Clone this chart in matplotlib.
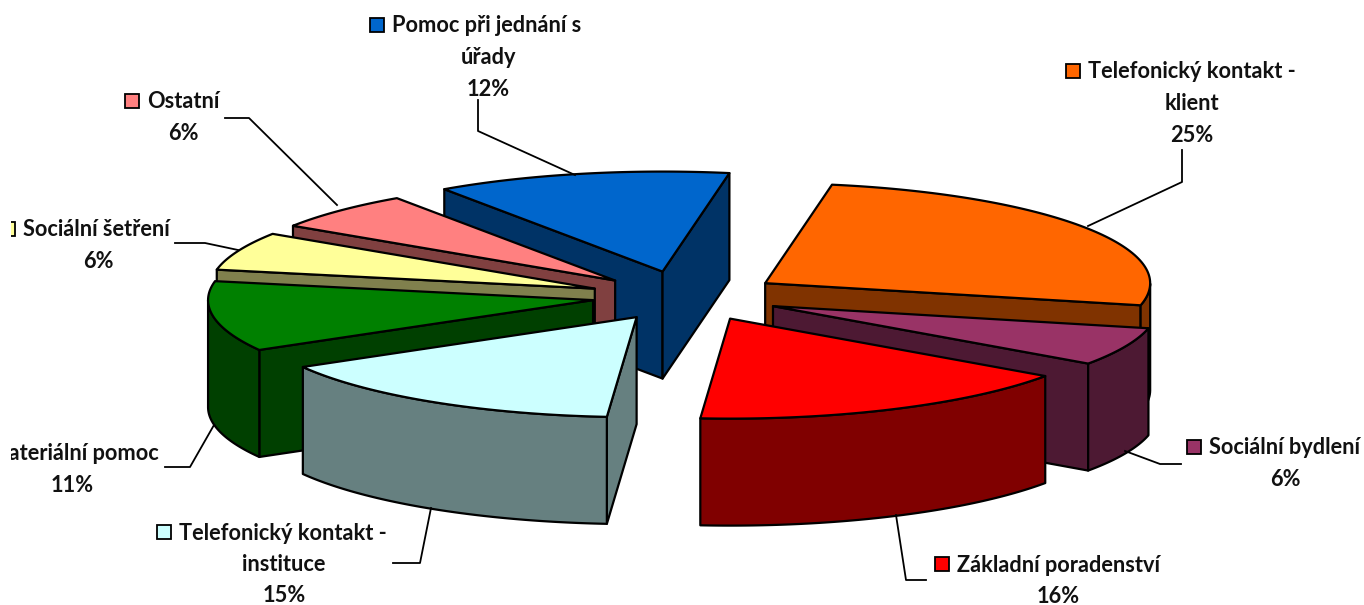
import numpy as np
import matplotlib
matplotlib.use("Agg")
import matplotlib.pyplot as plt
from matplotlib.patches import Rectangle, Polygon

names = [["Telefonický kontakt -", "klient"], ["Sociální bydlení"], ["Základní poradenství"],
         ["Telefonický kontakt -", "instituce"], ["Materiální pomoc"], ["Sociální šetření"],
         ["Ostatní"], ["Pomoc při jednání s", "úřady"]]
values = [25, 6, 16, 15, 11, 6, 6, 12]
top_colors = ["#FF6600", "#993366", "#FF0000", "#CCFFFF", "#008000", "#FFFF99", "#FF8080", "#0066CC"]
side_colors = ["#803300", "#4D1933", "#800000", "#668080", "#004000", "#80804D", "#804040", "#003366"]

# layout of the pie, in pixels
CX, CY, A, B, H = 683, 296, 385, 100, 107
START, EXPLODE = 80, 0.25
NUDGE = [(2, 1), (2, 0), (6, 0), (5, 0), (5, 0), (1, 2), (1, 2), (0, 0)]
DRAW_ORDER = [7, 6, 5, 4, 3, 0, 1, 2]
# (x of first line start, y of first line, x centre of following lines)
LABEL_POS = [(1088, 72, 1192), (1209, 448, 1285), (957, 565, 1058), (179, 533, 284),
             (-12, 454, 72), (23, 230, 98), (147, 102, 183), (392, 26, 488)]
LEADERS = [[(1182, 150), (1182, 182), (1088, 226)], [(1125, 451), (1160, 464), (1181, 464)],
           [(896, 515), (906, 580), (926, 580)], [(431, 508), (420, 563), (393, 563)],
           [(214, 425), (190, 467), (165, 467)], [(175, 243), (205, 243), (238, 250)],
           [(337, 205), (249, 118), (225, 118)], [(478, 100), (478, 131), (575, 175)]]

fig = plt.figure(figsize=(13.64, 6.05), dpi=100)
ax = fig.add_axes([0, 0, 1, 1])
ax.set_xlim(0, 1364)
ax.set_ylim(605, 0)
ax.axis("off")

fracs = np.array(values) / sum(values) * 360
starts = START - np.concatenate([[0], np.cumsum(fracs)[:-1]])
ends = starts - fracs


def pt(cx, cy, deg):
    r = np.radians(deg)
    return cx + A * np.cos(r), cy - B * np.sin(r)


for i in DRAW_ORDER:
    s, e = starts[i], ends[i]
    mid = (s + e) / 2
    cx, cy = pt(CX, CY, mid)
    cx = CX + (cx - CX) * EXPLODE + NUDGE[i][0]
    cy = CY + (cy - CY) * EXPLODE + NUDGE[i][1]
    ts = np.linspace(s, e, 90)
    xs, ys = pt(cx, cy, ts)
    kw = dict(edgecolor="black", linewidth=1.6, joinstyle="round")
    # radial faces that look towards the viewer
    if np.cos(np.radians(s)) < 0:
        px, py = pt(cx, cy, s)
        ax.add_patch(Polygon([(cx, cy), (px, py), (px, py + H), (cx, cy + H)], facecolor=side_colors[i], **kw))
    if np.cos(np.radians(e)) > 0:
        px, py = pt(cx, cy, e)
        ax.add_patch(Polygon([(cx, cy), (px, py), (px, py + H), (cx, cy + H)], facecolor=side_colors[i], **kw))
    # outer wall: the part of the rim on the front half
    front = np.sin(np.radians(ts)) <= 0
    if front.any():
        fx, fy = xs[front], ys[front]
        wall = np.column_stack([np.r_[fx, fx[::-1]], np.r_[fy, fy[::-1] + H]])
        ax.add_patch(Polygon(wall, facecolor=side_colors[i], **kw))
    ax.add_patch(Polygon(np.column_stack([np.r_[cx, xs], np.r_[cy, ys]]), facecolor=top_colors[i], **kw))

clip = Rectangle((11, 0), 1353, 605, transform=ax.transData, fill=False, linewidth=0)
ax.add_patch(clip)

font = dict(family="Lato", fontweight="bold", fontsize=15.7, color="#111111")
for i, lines in enumerate(names):
    x0, y0, xc = LABEL_POS[i]
    t = ax.text(x0, y0, lines[0], ha="left", va="center", **font)
    t.set_clip_on(True)
    t.set_clip_path(clip)
    key = Rectangle((x0 - 22, y0 - 8), 14, 14, facecolor=top_colors[i], edgecolor="black", linewidth=1.3)
    ax.add_patch(key)
    key.set_clip_path(clip)
    rows = lines[1:] + [f"{values[i]}%"]
    for j, row in enumerate(rows, start=1):
        ax.text(xc, y0 + j * 31.5, row, ha="center", va="center", **font)
    lx, ly = zip(*LEADERS[i])
    ax.plot(lx, ly, color="black", linewidth=1.3)

fig.savefig("out.png", dpi=100, facecolor="white")
